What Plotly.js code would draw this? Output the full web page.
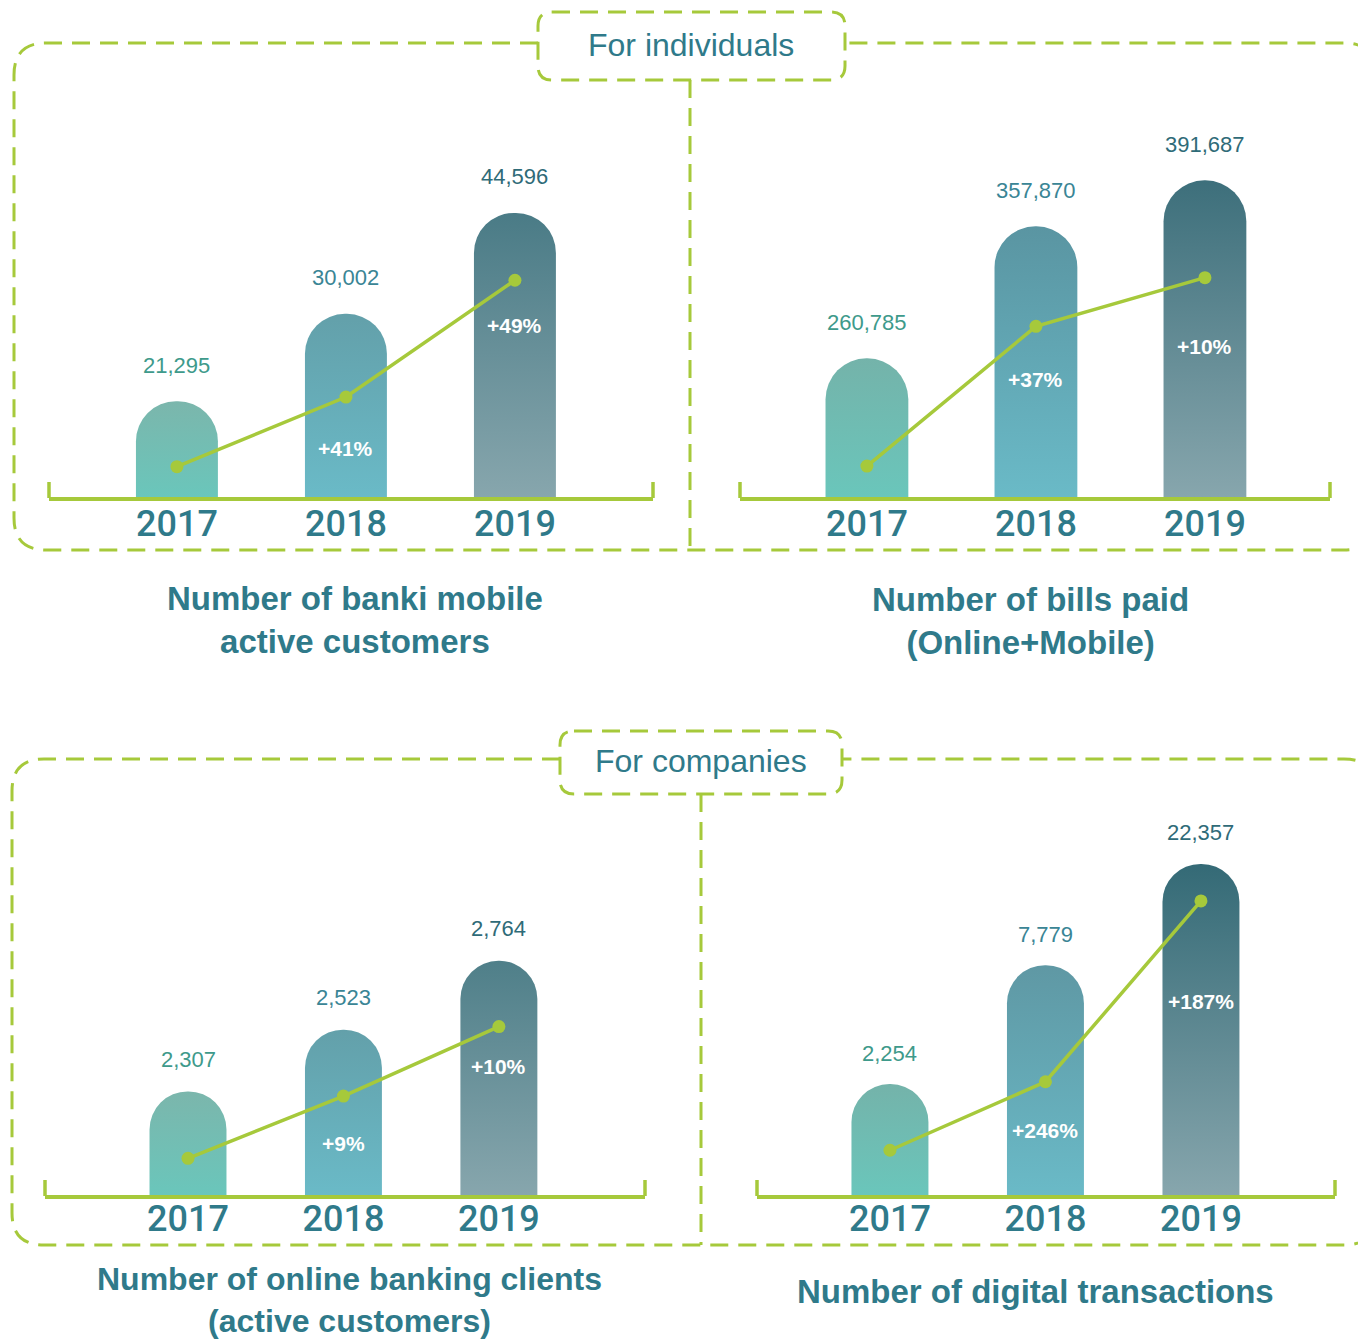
<!DOCTYPE html>
<html>
<head>
<meta charset="utf-8">
<script src="https://cdn.plot.ly/plotly-3.0.1.min.js"></script>
<style>
  html, body { margin: 0; padding: 0; background: #ffffff; }
  #chart { width: 1358px; height: 1343px; }
</style>
</head>
<body>
<div id="chart"></div>
<script>
// ---------------- DATA ----------------
const years = ['2017', '2018', '2019'];

const mobileCustomers = [21295, 30002, 44596];
const billsPaid       = [260785, 357870, 391687];
const onlineClients   = [2307, 2523, 2764];
const digitalTx       = [2254, 7779, 22357];

const growthMobile  = ['', '+41%', '+49%'];
const growthBills   = ['', '+37%', '+10%'];
const growthOnline  = ['', '+9%', '+10%'];
const growthDigital = ['', '+246%', '+187%'];

const panelTitles = [
  'Number of banki mobile<br>active customers',
  'Number of bills paid<br>(Online+Mobile)',
  'Number of online banking clients<br>(active customers)',
  'Number of digital transactions'
];
const sectionTitles = ['For individuals', 'For companies'];

// ---------------- STYLE ----------------
const W = 1358, H = 1343;
const GREEN = '#A6C93B';
const TEAL = '#2F7A8A';
const labelColors = ['#3E9A8B', '#3A8595', '#2F6B78'];
const barBottom = ['#6AC6BB', '#6ABAC7', '#87A6AD'];
const FONT = 'Liberation Sans, Arial, Helvetica, sans-serif';
const YEARFONT = 'Roboto, Liberation Sans, Arial, sans-serif';

const seriesList = [mobileCustomers, billsPaid, onlineClients, digitalTx];
const growthList = [growthMobile, growthBills, growthOnline, growthDigital];

// geometry of each panel (pixels) and scale parameters (px per unit / value at baseline)
const panels = [
  { xPx: [49, 653],  base: 497,  top: 97,  xr: [-0.757, 2.817], bw: 0.485,
    bar: { type: 'log', a: 586.7, v0: 4.16502 }, line: { a: 0.0080015, v0: 17509 },
    pctShift: [0, -51, -45], labShift: 36, barTop: ['#7BB6AC', '#63A0AA', '#4A7B86'],
    title: [355, 620], titleSize: 33, standoff: -8 },
  { xPx: [740, 1330], base: 497, top: 97,  xr: [-0.751, 2.74], bw: 0.49,
    bar: { type: 'linear', a: 0.0013603, v0: 158866 }, line: { a: 0.0014398, v0: 239339 },
    pctShift: [0, -53, -69], labShift: 36, barTop: ['#74B3AA', '#5A95A2', '#3D6F7B'],
    title: [1030, 621], titleSize: 33, standoff: -8 },
  { xPx: [45, 645],  base: 1195, top: 795, xr: [-0.92, 2.94], bw: 0.495,
    bar: { type: 'linear', a: 0.28584, v0: 1944.8 }, line: { a: 0.28824, v0: 2179.8 },
    pctShift: [0, -47, -40], labShift: 32, barTop: ['#7BB6AC', '#63A0AA', '#4F7F89'],
    title: [350, 1300], titleSize: 32, standoff: -11 },
  { xPx: [757, 1335], base: 1195, top: 795, xr: [-0.855, 2.862], bw: 0.495,
    bar: { type: 'log', a: 220.9, v0: 2.8505 }, line: { a: 0.0124, v0: -1354.8 },
    pctShift: [0, -49, -101], labShift: 31, barTop: ['#74B3AA', '#5F98A4', '#346A76'],
    title: [1035, 1291], titleSize: 33, standoff: -11 }
];

const px = x => x / W;
const py = y => 1 - y / H;
const P = (x, y) => px(x).toFixed(5) + ',' + py(y).toFixed(5);

const traces = [];
const annotations = [];
const shapes = [];
const layout = {
  width: W, height: H,
  margin: { l: 0, r: 0, t: 0, b: 0 },
  paper_bgcolor: '#ffffff', plot_bgcolor: 'rgba(0,0,0,0)',
  showlegend: false,
  font: { family: FONT, color: TEAL },
  annotations: annotations,
  shapes: shapes
};

panels.forEach((pn, k) => {
  const xid = k === 0 ? 'x' : 'x' + (k + 1);
  const ybarId = (2 * k + 1) === 1 ? 'y' : 'y' + (2 * k + 1);
  const ylineId = 'y' + (2 * k + 2);
  const xKey = 'xaxis' + xid.slice(1);
  const ybKey = 'yaxis' + ybarId.slice(1);
  const ylKey = 'yaxis' + ylineId.slice(1);
  const vals = seriesList[k];
  const hPx = pn.base - pn.top;

  layout[xKey] = {
    domain: [px(pn.xPx[0]), px(pn.xPx[1])], anchor: ybarId,
    type: 'category', range: pn.xr, fixedrange: true,
    showline: true, linecolor: GREEN, linewidth: 3.5,
    showgrid: false, zeroline: false, ticks: '',
    tickfont: { family: YEARFONT, size: 36, color: TEAL, weight: 500 },
    ticklabelstandoff: pn.standoff
  };
  layout[ybKey] = {
    domain: [py(pn.base), py(pn.top)], anchor: xid,
    type: pn.bar.type, range: [pn.bar.v0, pn.bar.v0 + hPx / pn.bar.a],
    visible: false, fixedrange: true
  };
  layout[ylKey] = {
    overlaying: ybarId, anchor: xid, type: 'linear',
    range: [pn.line.v0, pn.line.v0 + hPx / pn.line.a],
    visible: false, fixedrange: true
  };

  traces.push({
    type: 'bar', x: years, y: vals, xaxis: xid, yaxis: ybarId,
    width: pn.bw, meta: k,
    marker: { color: pn.barTop, cornerradius: '50%', line: { width: 0 } },
    hoverinfo: 'skip'
  });
  traces.push({
    type: 'scatter', mode: 'lines+markers', x: years, y: vals,
    xaxis: xid, yaxis: ylineId, cliponaxis: false,
    line: { color: GREEN, width: 3.5 },
    marker: { color: GREEN, size: 13 },
    hoverinfo: 'skip'
  });

  // value labels above bars (x given as category index)
  vals.forEach((v, j) => {
    annotations.push({
      xref: xid, yref: ybarId, x: j,
      y: pn.bar.type === 'log' ? Math.log10(v) : v,
      xanchor: 'center', yanchor: 'middle', yshift: pn.labShift, showarrow: false,
      text: v.toLocaleString('en-US'),
      font: { family: FONT, size: 22, color: labelColors[j] }
    });
    const g = growthList[k][j];
    if (g) {
      annotations.push({
        xref: xid, yref: ylineId, x: j, y: v,
        xanchor: 'center', yanchor: 'middle', yshift: pn.pctShift[j], showarrow: false,
        text: '<b>' + g + '</b>',
        font: { family: FONT, size: 21, color: '#ffffff' }
      });
    }
  });

  // panel title
  annotations.push({
    xref: 'paper', yref: 'paper', x: px(pn.title[0]), y: py(pn.title[1]),
    xanchor: 'center', yanchor: 'middle', showarrow: false,
    text: '<b>' + panelTitles[k] + '</b>',
    font: { family: FONT, size: pn.titleSize, color: TEAL }
  });

  // end ticks of the axis line
  [pn.xPx[0], pn.xPx[1]].forEach(xx => {
    shapes.push({
      type: 'line', xref: 'paper', yref: 'paper',
      x0: px(xx), x1: px(xx), y0: py(pn.base + 1), y1: py(pn.base - 15),
      line: { color: GREEN, width: 3.5 }
    });
  });
});

// ---------------- dashed frames ----------------
const DASH = '18px,10px';
function outerFrame(l, t, r, b, hl, hr, rad) {
  return 'M' + P(hl, t) + ' L' + P(l + rad, t) + ' Q' + P(l, t) + ' ' + P(l, t + rad) +
    ' L' + P(l, b - rad) + ' Q' + P(l, b) + ' ' + P(l + rad, b) +
    ' L' + P(r - rad, b) + ' Q' + P(r, b) + ' ' + P(r, b - rad) +
    ' L' + P(r, t + rad) + ' Q' + P(r, t) + ' ' + P(r - rad, t) + ' L' + P(hr, t);
}
function roundRect(l, t, r, b, rad) {
  return 'M' + P(l + rad, t) + ' L' + P(r - rad, t) + ' Q' + P(r, t) + ' ' + P(r, t + rad) +
    ' L' + P(r, b - rad) + ' Q' + P(r, b) + ' ' + P(r - rad, b) +
    ' L' + P(l + rad, b) + ' Q' + P(l, b) + ' ' + P(l, b - rad) +
    ' L' + P(l, t + rad) + ' Q' + P(l, t) + ' ' + P(l + rad, t) + ' Z';
}
const frames = [
  { l: 14, t: 43, r: 1376, b: 550, hl: 538, hr: 845, ht: 12, hb: 80, div: 690, tx: 691, ty: 45 },
  { l: 12, t: 759, r: 1376, b: 1245, hl: 560, hr: 842, ht: 731, hb: 794, div: 701, tx: 701, ty: 761 }
];
frames.forEach((f, i) => {
  shapes.push({ type: 'path', xref: 'paper', yref: 'paper',
    path: outerFrame(f.l, f.t, f.r, f.b, f.hl, f.hr, 32),
    line: { color: GREEN, width: 3, dash: DASH } });
  shapes.push({ type: 'path', xref: 'paper', yref: 'paper',
    path: roundRect(f.hl, f.ht, f.hr, f.hb, 14),
    line: { color: GREEN, width: 3, dash: DASH } });
  shapes.push({ type: 'line', xref: 'paper', yref: 'paper',
    x0: px(f.div), x1: px(f.div), y0: py(f.hb), y1: py(f.b),
    line: { color: GREEN, width: 3, dash: DASH } });
  annotations.push({
    xref: 'paper', yref: 'paper', x: px(f.tx), y: py(f.ty),
    xanchor: 'center', yanchor: 'middle', showarrow: false,
    text: sectionTitles[i],
    font: { family: FONT, size: 32, color: TEAL }
  });
});

// ---------------- gradients on bars ----------------
function applyGradients(gd) {
  const NS = 'http://www.w3.org/2000/svg';
  const svg = gd.querySelector('svg.main-svg');
  let defs = svg.querySelector('defs');
  if (!defs) { defs = document.createElementNS(NS, 'defs'); svg.insertBefore(defs, svg.firstChild); }
  gd.querySelectorAll('g.trace.bars').forEach(tg => {
    const cd = tg.__data__;
    if (!cd || !cd[0]) return;
    const tr = cd[0].trace;
    const k = tr.meta;
    const ya = gd._fullLayout['yaxis' + tr.yaxis.slice(1)];
    tg.querySelectorAll('g.point path').forEach((p, j) => {
      const bb = p.getBBox();
      const id = 'bargrad_' + k + '_' + j;
      const g = document.createElementNS(NS, 'linearGradient');
      g.setAttribute('id', id);
      g.setAttribute('gradientUnits', 'userSpaceOnUse');
      g.setAttribute('x1', 0); g.setAttribute('x2', 0);
      g.setAttribute('y1', bb.y); g.setAttribute('y2', ya._length);
      [[0, panels[k].barTop[j]], [1, barBottom[j]]].forEach(s => {
        const st = document.createElementNS(NS, 'stop');
        st.setAttribute('offset', s[0]);
        st.setAttribute('stop-color', s[1]);
        g.appendChild(st);
      });
      defs.appendChild(g);
      p.style.fill = 'url(#' + id + ')';
    });
  });
}

Plotly.newPlot('chart', traces, layout, { displayModeBar: false, staticPlot: true })
  .then(gd => applyGradients(gd));
</script>
</body>
</html>
